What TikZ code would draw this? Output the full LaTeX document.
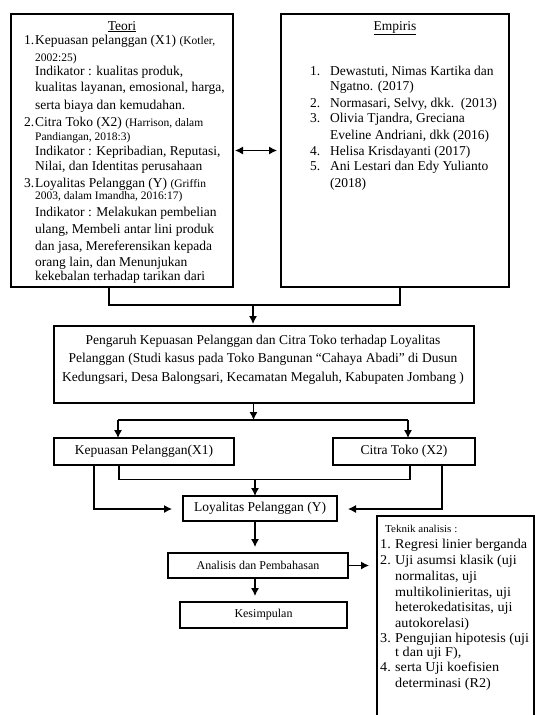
\documentclass[tikz,border=0pt]{standalone}
\usepackage{fontspec}
\setmainfont{Liberation Serif}
\newfontfamily\widefont[FakeStretch=1.05]{Liberation Serif}
\usetikzlibrary{arrows.meta}
\newcommand\bodysz{\fontsize{13.5}{16}\selectfont}
\newcommand\citesz{\fontsize{11.5}{13}\selectfont}
\newcommand\boxsz{\fontsize{12}{14}\selectfont}
\newcommand\tkn{\widefont\fontsize{13.5}{16}\selectfont}
\newcommand\tknsm{\widefont\fontsize{10.5}{12}\selectfont}
\tikzset{
  box/.style={draw, line width=1.3pt, inner sep=0pt, outer sep=0pt, font=\bodysz, align=center},
  boxline/.style={line width=1.3pt},
  tl/.style={inner sep=0pt, anchor=base west, font=\bodysz},
  tc/.style={inner sep=0pt, anchor=base, font=\bodysz},
  ln/.style={line width=1.1pt},
  arr/.style={ln, -{Latex[length=8pt,width=8pt]}},
  darr/.style={ln, {Latex[length=8pt,width=8pt]}-{Latex[length=8pt,width=8pt]}},
}
\begin{document}
\begin{tikzpicture}[x=1pt,y=-1pt]
\useasboundingbox[fill=white] (0,0) rectangle (535,715);

% ---------- boxes ----------
\node[box, minimum width=222pt, minimum height=273pt] (teori) at (122,150.5) {};
\node[box, minimum width=228pt, minimum height=273pt] (empiris) at (395,150.5) {};
\node[box, minimum width=420pt, minimum height=77pt] (judul) at (264,364.5) {};
\node[box, minimum width=180pt, minimum height=27pt] (kep) at (144,451.5) {Kepuasan Pelanggan(X1)};
\node[box, minimum width=142pt, minimum height=27pt] (citra) at (404,451.5) {Citra Toko (X2)};
\node[box, minimum width=154pt, minimum height=25pt] (loy) at (260,508.5) {Loyalitas Pelanggan (Y)};
\node[box, minimum width=180pt, minimum height=25pt, font=\boxsz] (anal) at (258,565.5) {Analisis dan Pembahasan};
\node[box, minimum width=167pt, minimum height=26pt, font=\boxsz] (kes) at (263.5,615) {Kesimpulan};
\node[inner sep=0pt, outer sep=0pt, minimum width=157pt, minimum height=199pt] (teknik) at (455.5,615.5) {};
\draw[boxline] (teknik.south west) -- (teknik.north west) -- (teknik.north east) -- (teknik.south east);

% ---------- Teori text ----------
\node[tc] (tT) at (122,30) {\underline{Teori}};
\node[tl] (tn1) at (24,44) {1.};
\node[tl] (t1) at (35,44) {Kepuasan pelanggan (X1) {\citesz(Kotler,}};
\node[tl, font=\citesz] (t2) at (35,61) {2002:25)};
\node[tl] (t3) at (35,75) {Indikator : kualitas produk,};
\node[tl] (t4) at (35,91) {kualitas layanan, emosional, harga,};
\node[tl] (t5) at (35,109) {serta biaya dan kemudahan.};
\node[tl] (tn2) at (24,126) {2.};
\node[tl] (t6) at (35,126) {Citra Toko (X2) {\citesz(Harrison, dalam}};
\node[tl, font=\citesz] (t7) at (35,140) {Pandiangan, 2018:3)};
\node[tl] (t8) at (35,155) {Indikator : Kepribadian, Reputasi,};
\node[tl] (t9) at (35,170) {Nilai, dan Identitas perusahaan};
\node[tl] (tn3) at (24,187) {3.};
\node[tl] (t10) at (35,187) {Loyalitas Pelanggan (Y) {\citesz(Griffin}};
\node[tl, font=\citesz] (t11) at (35,199) {2003, dalam Imandha, 2016:17)};
\node[tl] (t12) at (35,216) {Indikator : Melakukan pembelian};
\node[tl] (t13) at (35,233) {ulang, Membeli antar lini produk};
\node[tl] (t14) at (35,250) {dan jasa, Mereferensikan kepada};
\node[tl] (t15) at (35,266) {orang lain, dan Menunjukan};
\node[tl] (t16) at (35,280) {kekebalan terhadap tarikan dari};

% ---------- Empiris text ----------
\node[tc] (eT) at (395,30) {\underline{Empiris}};
\node[tl] (en1) at (310,75) {1.};
\node[tl] (e1) at (330,75) {Dewastuti, Nimas Kartika dan};
\node[tl] (e2) at (330,90) {Ngatno. (2017)};
\node[tl] (en2) at (310,107) {2.};
\node[tl] (e3) at (330,107) {Normasari, Selvy, dkk.\ \ (2013)};
\node[tl] (en3) at (310,122) {3.};
\node[tl] (e4) at (330,122) {Olivia Tjandra, Greciana};
\node[tl] (e5) at (330,139) {Eveline Andriani, dkk (2016)};
\node[tl] (en4) at (310,155) {4.};
\node[tl] (e6) at (330,155) {Helisa Krisdayanti (2017)};
\node[tl] (en5) at (310,170) {5.};
\node[tl] (e7) at (330,170) {Ani Lestari dan Edy Yulianto};
\node[tl] (e8) at (330,187) {(2018)};

% ---------- Judul text ----------
\node[tc] (j1) at (263,344) {Pengaruh Kepuasan Pelanggan dan Citra Toko terhadap Loyalitas};
\node[tc] (j2) at (263,362) {Pelanggan (Studi kasus pada Toko Bangunan “Cahaya Abadi” di Dusun};
\node[tc] (j3) at (263,381) {Kedungsari, Desa Balongsari, Kecamatan Megaluh, Kabupaten Jombang )};

% ---------- Teknik text ----------
\node[tl, font=\tknsm] (k0) at (385,532) {Teknik analisis :};
\node[tl, font=\tkn] (kn1) at (380,548) {1.};
\node[tl, font=\tkn] (k1) at (395,548) {Regresi linier berganda};
\node[tl, font=\tkn] (kn2) at (380,564) {2.};
\node[tl, font=\tkn] (k2) at (395,564) {Uji asumsi klasik (uji};
\node[tl, font=\tkn] (k3) at (395,580) {normalitas, uji};
\node[tl, font=\tkn] (k4) at (395,596) {multikolinieritas, uji};
\node[tl, font=\tkn] (k5) at (395,611) {heterokedatisitas, uji};
\node[tl, font=\tkn] (k6) at (395,627) {autokorelasi)};
\node[tl, font=\tkn] (kn3) at (380,642) {3.};
\node[tl, font=\tkn] (k7) at (395,642) {Pengujian hipotesis (uji};
\node[tl, font=\tkn] (k8) at (395,656) {t dan uji F),};
\node[tl, font=\tkn] (kn4) at (380,671) {4.};
\node[tl, font=\tkn] (k9) at (395,671) {serta Uji koefisien};
\node[tl, font=\tkn] (k10) at (395,687) {determinasi (R2)};

% ---------- connectors ----------
\draw[darr, shorten <=2pt, shorten >=4pt] (teori.east) -- (empiris.west);

\coordinate (a1) at (109,305);
\coordinate (a2) at (400,305);
\coordinate (a3) at (253,305);
\draw[ln] (teori.south -| a1) -- (a1) -- (a2) -- (empiris.south -| a2);
\draw[arr, shorten >=2pt] (a3) -- (judul.north -| a3);

\coordinate (b1) at (118,420);
\coordinate (b2) at (408,420);
\coordinate (b3) at (253.5,420);
\draw[arr] (judul.south -| b3) -- (b3);
\draw[ln] (b1) -- (b2);
\draw[arr] (b1) -- (kep.north -| b1);
\draw[arr] (b2) -- (citra.north -| b2);

\coordinate (d1) at (119,479.5);
\coordinate (d2) at (410,479.5);
\coordinate (d3) at (255,479.5);
\draw[ln] (kep.south -| d1) -- (d1) -- (d2) -- (citra.south -| d2);
\draw[arr] (d3) -- (loy.north -| d3);

\coordinate (c1) at (94,509);
\coordinate (c2) at (442,509);
\draw[arr, shorten >=11pt] (kep.south -| c1) -- (c1) -- (c1 -| loy.west);
\draw[arr, shorten >=11pt] (citra.south -| c2) -- (c2) -- (c2 -| loy.east);

\coordinate (f1) at (255,0);
\draw[arr, shorten >=6pt] (loy.south -| f1) -- (anal.north -| f1);
\draw[arr, shorten >=6pt] (anal.south -| f1) -- (kes.north -| f1);
\draw[arr, shorten >=8pt] (anal.east) -- (anal.east -| teknik.west);
\end{tikzpicture}
\end{document}
